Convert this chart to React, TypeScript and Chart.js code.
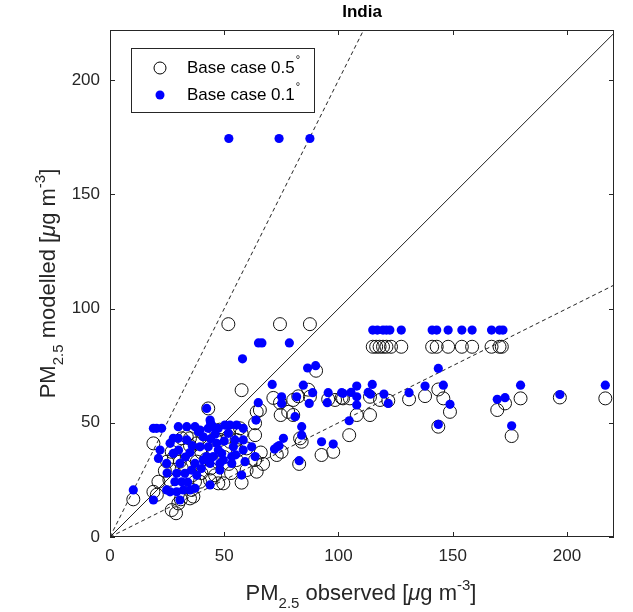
import React, { useEffect, useRef } from "react";
import { Chart, registerables } from "chart.js";

Chart.register(...registerables);

// ---------- data ----------
const TITLE = "India";
const X_MAX = 220.6;
const Y_MAX = 222;
const X_TICKS = [0, 50, 100, 150, 200];
const Y_TICKS = [0, 50, 100, 150, 200];
const REF_SLOPES = [1, 2, 0.5];

// Base case 0.5° (open circles)
const X_05 = [
  51.8, 74.4, 87.5,
  115, 116.5, 118, 119.5, 121, 123, 127.5, 141, 143, 148, 154, 158.5, 167, 170.5, 171.5,
  90.2, 137.9, 143.7, 145.9, 148.8, 143.7, 130.9, 121.8, 169.5, 172.9, 179.7, 175.8, 196.9, 216.8,
  102, 105, 108, 104.7, 113.8, 113.8, 118.2, 95.5, 101.4, 98.5,
  71.5, 82.4, 86.8, 87.5, 80.2, 74.4, 74.7, 78, 80.2, 92.6, 97.7, 83.9, 83.2, 82.8, 73, 75.1,
  57.6, 64.2, 65.6, 63.5,
  10.2, 19, 20.5, 21.2, 19, 27, 28.9, 29.9, 31, 31.4, 33.6, 35, 35.7, 36.5, 35, 30.6, 31.4, 37.2,
  43, 43.8, 47.4, 49.6, 39.4, 48.1, 51.8, 52.5, 55.4, 56.9, 57.6, 59.8, 55.4, 57.6, 59.8, 63.5,
  64.2, 63.5, 27,
  25, 28, 33, 35, 38, 40, 42, 45, 47, 50, 52, 40, 44, 46, 26, 24, 36, 38, 53, 33, 46, 41, 48, 56, 66, 67,
];
const Y_05 = [
  93.2, 93.2, 93.2,
  83.3, 83.3, 83.3, 83.3, 83.3, 83.3, 83.3, 83.3, 83.3, 83.3, 83.3, 83.3, 83.3, 83.3, 83.3,
  72.8, 61.7, 64.6, 60.7, 54.8, 48.3, 60.3, 59.7, 55.6, 58.5, 60.7, 44.2, 61.1, 60.7,
  60.7, 60.7, 53.4, 44.6, 53.4, 61.4, 60, 60.3, 61, 60,
  60.9, 61.6, 64.5, 61.4, 60, 58.8, 53.4, 54.8, 53.4, 35.9, 37.3, 41.7, 43.2, 32, 35.9, 37.3,
  64.3, 54.8, 55.6, 49.8,
  16.5, 19.8, 18.5, 24.2, 41, 37.3, 10.4, 14.7, 16.5, 43.2, 43.9, 43.2, 20.6, 17.7, 16.9, 33, 30.1, 24.2,
  56.3, 24.9, 23.5, 23.5, 24.2, 42.5, 43.9, 41.7, 42.5, 47.6, 45.4, 38.8, 33.7, 23.8, 29.3, 44.6,
  28.6, 33.7, 11.8,
  33, 35, 38, 40, 41, 37, 34, 37, 33, 35, 32, 28, 30, 27, 25, 29, 27, 33, 28, 31, 43, 45, 47, 38, 37, 32,
];

// Base case 0.1° (blue dots)
const X_01 = [
  52, 74, 87.5, 65, 66.5, 78.5, 58, 86.5, 90,
  115, 117, 119.5, 121, 122.5, 127.5, 141, 143, 148, 154, 158.5, 167, 170.5, 172,
  143.7, 137.9, 145.9, 148.8, 143.7, 130.9, 119.9, 121.8, 169.5, 172.9, 179.7, 175.8, 196.9, 216.8,
  102, 105.5, 108, 108, 108, 104.7, 114.8, 113, 114,
  71, 84.6, 75.1, 75.1, 81.7, 88.7, 87.2, 81, 95.5, 95.1, 101.4, 83.9, 83.9, 75.9, 73.2, 72, 74,
  92.6, 97.7, 82.8, 64.9, 63.9,
  10.2, 19, 19, 22.6, 21.9, 21.2, 24.8, 26.3, 27.7, 27.7, 29.9, 33.6, 37.2, 39.4, 29.9, 33.6, 30.6,
  29.2, 28.4, 31.4, 26.3, 29.2, 32.1, 35, 37.2, 30.6, 24.8, 32.8, 35.7, 37.2, 42.3, 43.8, 43, 38.7,
  40.8, 39.4, 43, 42.3, 45.2, 40.8, 43.8, 46.7, 47.4, 48.9, 49.6, 48.1, 48.1, 45.2, 47.4, 50.3, 52.5,
  51.8, 54, 53.3, 53.3, 43.8, 55.4, 58.3, 54.7, 58.3, 58.3, 62, 63.5, 59.1, 57.6,
  35, 33, 36, 30, 25, 34, 38, 40, 46, 50, 55, 44, 20.4, 44,
];
const Y_01 = [
  174.5, 174.5, 174.5, 85, 85, 85, 78, 74, 75,
  90.6, 90.6, 90.6, 90.6, 90.6, 90.6, 90.6, 90.6, 90.6, 90.6, 90.6, 90.6, 90.6, 90.6,
  73.8, 66.1, 66.5, 58.1, 49.3, 63.2, 62.6, 58.5, 60.3, 61, 66.5, 48.7, 62.4, 66.5,
  62.9, 63.3, 66.1, 61.4, 57.8, 50.9, 66.8, 63.3, 62.5,
  66.8, 66.5, 61.4, 58.5, 61.4, 63.2, 58.5, 52.7, 63.2, 58.8, 63.2, 48.3, 44.6, 43.2, 39.5, 38.5, 40,
  41.7, 40.7, 33.4, 58.8, 51.2,
  20.6, 16.2, 47.6, 47.6, 38.1, 34.4, 32.2, 41, 43.2, 36.6, 48.3, 48.3, 48.3, 46.8, 43.2, 42.5, 32.2,
  27.9, 24.2, 24.2, 19.8, 19.8, 20.6, 20.6, 21.3, 16.2, 20.6, 27.9, 29.3, 32.2, 56.3, 51.2, 47.6, 46.1,
  43.9, 39.5, 39.5, 35.2, 35.2, 33.7, 32.2, 41, 38.1, 36.6, 33.7, 32.2, 29.3, 48.3, 47.6, 49, 49,
  45.4, 39.5, 35.2, 32.2, 22.8, 49, 47.6, 42.5, 42.5, 38.1, 39.5, 35.2, 33, 27.1,
  37, 35, 40, 38, 28, 24, 27, 30, 45, 42, 36, 43, 47.6, 50,
];

const LEGEND_LABELS = ["Base case 0.5", "Base case 0.1"];

// ---------- styling ----------
const FONT = '"Liberation Sans", Arial, Helvetica, sans-serif';
const AXIS_COLOR = "#262626";
const BLUE = "#0000ff";

type Part = { t: string; s: number; dy?: number; it?: boolean; b?: boolean };

function drawRich(ctx: CanvasRenderingContext2D, parts: Part[], cx: number, baseY: number) {
  let total = 0;
  const widths: number[] = [];
  for (const p of parts) {
    ctx.font = `${p.it ? "italic " : ""}${p.b ? "bold " : ""}${p.s}px ${FONT}`;
    const w = ctx.measureText(p.t).width;
    widths.push(w);
    total += w;
  }
  let x = cx - total / 2;
  ctx.textAlign = "left";
  ctx.textBaseline = "alphabetic";
  parts.forEach((p, i) => {
    ctx.font = `${p.it ? "italic " : ""}${p.b ? "bold " : ""}${p.s}px ${FONT}`;
    ctx.fillText(p.t, x, baseY + (p.dy || 0));
    x += widths[i];
  });
}

const decorPlugin = {
  id: "decor",
  afterDatasetsDraw(chart: any) {
    const ctx: CanvasRenderingContext2D = chart.ctx;
    const { left, right, top, bottom } = chart.chartArea;
    const xs = chart.scales.x;
    const ys = chart.scales.y;
    ctx.save();
    ctx.strokeStyle = AXIS_COLOR;
    ctx.lineWidth = 1;
    ctx.strokeRect(left + 0.5, top + 0.5, right - left - 1, bottom - top - 1);
    const tl = 5;
    ctx.beginPath();
    for (const v of X_TICKS) {
      const px = Math.round(xs.getPixelForValue(v)) + 0.5;
      ctx.moveTo(px, bottom);
      ctx.lineTo(px, bottom - tl);
      ctx.moveTo(px, top);
      ctx.lineTo(px, top + tl);
    }
    for (const v of Y_TICKS) {
      const py = Math.round(ys.getPixelForValue(v)) + 0.5;
      ctx.moveTo(left, py);
      ctx.lineTo(left + tl, py);
      ctx.moveTo(right, py);
      ctx.lineTo(right - tl, py);
    }
    ctx.stroke();

    // Title
    ctx.fillStyle = "#000";
    ctx.font = `bold 17px ${FONT}`;
    ctx.textAlign = "center";
    ctx.textBaseline = "middle";
    ctx.fillText(TITLE, (left + right) / 2, 12);

    // Axis titles
    ctx.fillStyle = AXIS_COLOR;
    const unitParts: Part[] = [
      { t: "\u03bc", s: 22, it: true },
      { t: "g m", s: 22 },
      { t: "-3", s: 15, dy: -10 },
      { t: "]", s: 22 },
    ];
    const xParts: Part[] = [
      { t: "PM", s: 22 },
      { t: "2.5", s: 15, dy: 8 },
      { t: " observed [", s: 22 },
      ...unitParts,
    ];
    drawRich(ctx, xParts, (left + right) / 2 - 1, 600);
    const yParts: Part[] = [
      { t: "PM", s: 22 },
      { t: "2.5", s: 15, dy: 8 },
      { t: " modelled [", s: 22 },
      ...unitParts,
    ];
    ctx.save();
    ctx.translate(55, (top + bottom) / 2);
    ctx.rotate(-Math.PI / 2);
    drawRich(ctx, yParts, 0, 0);
    ctx.restore();

    // Legend
    const lx = left + 21;
    const ly = top + 18;
    const lw = 183;
    const lh = 64;
    ctx.fillStyle = "#fff";
    ctx.fillRect(lx, ly, lw, lh);
    ctx.strokeStyle = AXIS_COLOR;
    ctx.strokeRect(lx + 0.5, ly + 0.5, lw, lh);
    const rows = [ly + 20, ly + 47];
    ctx.beginPath();
    ctx.arc(lx + 29, rows[0], 6, 0, Math.PI * 2);
    ctx.strokeStyle = "#000";
    ctx.lineWidth = 1;
    ctx.stroke();
    ctx.beginPath();
    ctx.arc(lx + 29, rows[1], 4.5, 0, Math.PI * 2);
    ctx.fillStyle = BLUE;
    ctx.fill();
    ctx.fillStyle = "#000";
    ctx.textAlign = "left";
    ctx.textBaseline = "middle";
    LEGEND_LABELS.forEach((lab, i) => {
      ctx.font = `17px ${FONT}`;
      ctx.fillText(lab, lx + 56, rows[i]);
      const w = ctx.measureText(lab).width;
      ctx.font = `11px ${FONT}`;
      ctx.fillText("\u00b0", lx + 57 + w, rows[i] - 8);
    });
    ctx.restore();
  },
};

export default function App() {
  const ref = useRef<HTMLCanvasElement | null>(null);
  useEffect(() => {
    if (!ref.current) return;
    const pts05 = X_05.map((x, i) => ({ x, y: Y_05[i] }));
    const pts01 = X_01.map((x, i) => ({ x, y: Y_01[i] }));
    const refDatasets = REF_SLOPES.map((m) => ({
      type: "line" as const,
      data: [
        { x: 0, y: 0 },
        { x: Y_MAX / m, y: Y_MAX },
      ],
      borderColor: "#222",
      borderWidth: 1,
      borderDash: m === 1 ? [] : [4, 3],
      pointRadius: 0,
      fill: false,
      order: 3,
    }));
    const chart = new Chart(ref.current, {
      type: "scatter",
      data: {
        datasets: [
          {
            label: LEGEND_LABELS[0],
            data: pts05,
            pointRadius: 6.5,
            pointBackgroundColor: "rgba(0,0,0,0)",
            pointBorderColor: "#111",
            pointBorderWidth: 1,
            order: 2,
          },
          {
            label: LEGEND_LABELS[1],
            data: pts01,
            pointRadius: 4.6,
            pointBackgroundColor: BLUE,
            pointBorderColor: BLUE,
            pointBorderWidth: 0,
            order: 1,
          },
          ...refDatasets,
        ] as any,
      },
      options: {
        responsive: false,
        animation: false,
        devicePixelRatio: 1,
        layout: { padding: { top: 30, right: 19, left: 0, bottom: 0 } },
        plugins: { legend: { display: false }, tooltip: { enabled: false }, title: { display: false } },
        scales: {
          x: {
            type: "linear",
            min: 0,
            max: X_MAX,
            afterBuildTicks: (s: any) => {
              s.ticks = X_TICKS.map((v) => ({ value: v }));
            },
            afterFit: (s: any) => {
              s.height = 75;
            },
            grid: { display: false, drawTicks: false },
            border: { display: false },
            ticks: { color: AXIS_COLOR, font: { size: 17, family: FONT }, padding: 9, maxRotation: 0, autoSkip: false },
          },
          y: {
            type: "linear",
            min: 0,
            max: Y_MAX,
            afterBuildTicks: (s: any) => {
              s.ticks = Y_TICKS.map((v) => ({ value: v }));
            },
            afterFit: (s: any) => {
              s.width = 110;
            },
            grid: { display: false, drawTicks: false },
            border: { display: false },
            ticks: { color: AXIS_COLOR, font: { size: 17, family: FONT }, padding: 10, autoSkip: false },
          },
        },
      } as any,
      plugins: [decorPlugin],
    });
    return () => chart.destroy();
  }, []);
  return (
    <div style={{ position: "absolute", left: 0, top: 0, width: 633, height: 612, background: "#fff" }}>
      <canvas ref={ref} width={633} height={612} style={{ display: "block" }} />
    </div>
  );
}
